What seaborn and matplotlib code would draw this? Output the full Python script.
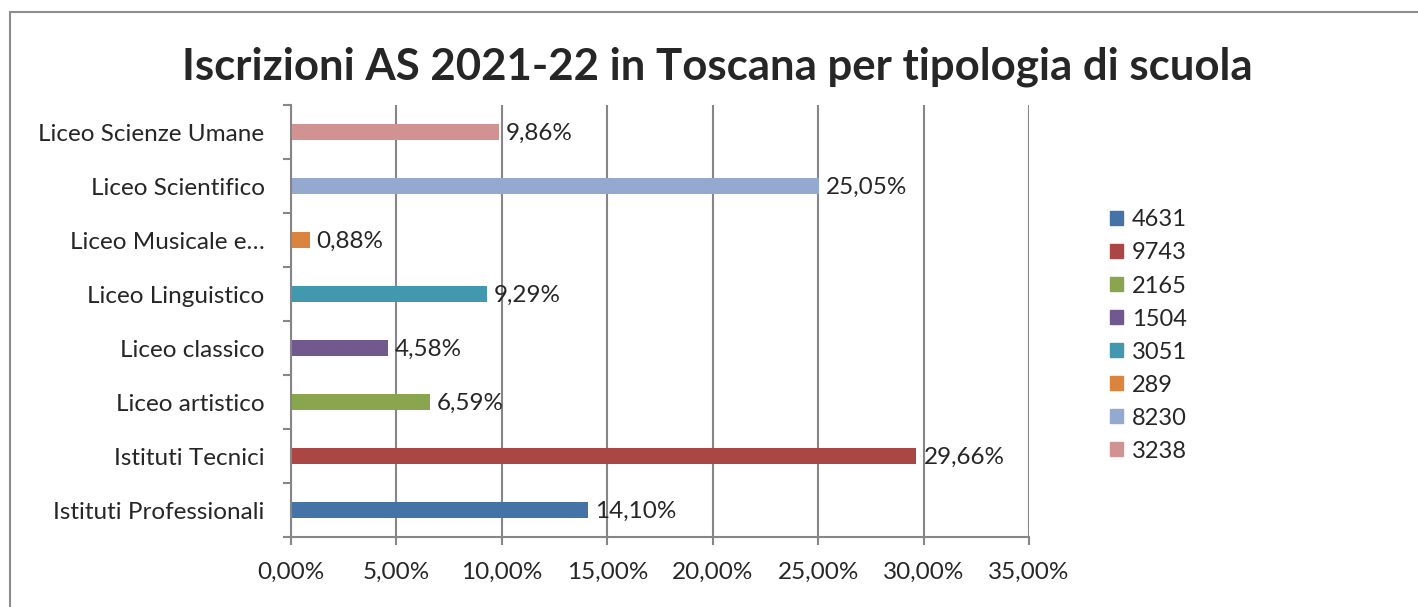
import pandas as pd
import matplotlib.pyplot as plt
import matplotlib.patches as mpatches
import seaborn as sns

# Dati (dal basso verso l'alto come nel grafico originale)
tipologie = ['Istituti Professionali', 'Istituti Tecnici', 'Liceo artistico', 'Liceo classico',
             'Liceo Linguistico', 'Liceo Musicale e…', 'Liceo Scientifico', 'Liceo Scienze Umane']
iscritti = [4631, 9743, 2165, 1504, 3051, 289, 8230, 3238]
percentuali = [14.10, 29.66, 6.59, 4.58, 9.29, 0.88, 25.05, 9.86]
colori = ['#4572A7', '#AA4643', '#89A54E', '#71588F', '#4198AF', '#DB843D', '#93A9CF', '#D19392']
xticks = [0, 5, 10, 15, 20, 25, 30, 35]

sns.set_style('white')
plt.rcParams['font.family'] = ['Lato', 'DejaVu Sans']

df = pd.DataFrame({'tipologia': tipologie, 'perc': percentuali, 'n': iscritti})
ordine = tipologie[::-1]
pal = dict(zip(tipologie, colori))

fig = plt.figure(figsize=(14.18, 6.07), dpi=100)
ax = fig.add_axes([0.2052, 0.1153, 0.5205, 0.7117])

sns.barplot(data=df, x='perc', y='tipologia', hue='tipologia', order=ordine, hue_order=ordine,
            palette=pal, orient='h', width=0.31, legend=False, ax=ax, saturation=1, linewidth=0)

ax.set_xlim(0, 35)
ax.set_ylim(len(tipologie) - 0.5, -0.5)
ax.set_xticks(xticks)
ax.set_xticklabels([f'{v:.2f}%'.replace('.', ',') for v in xticks], fontsize=17.5)
ax.set_yticks([i + 0.5 for i in range(-1, len(tipologie))])
ax.set_yticklabels([])
ax.set_yticks(range(len(ordine)), minor=True)
ax.set_yticklabels(ordine, minor=True, fontsize=17.5)
ax.tick_params(axis='y', which='minor', length=0, pad=19)
ax.tick_params(axis='y', which='major', length=6, width=1.5, color='#868686', direction='out', left=True)
ax.tick_params(axis='x', length=6, width=1.5, color='#868686', direction='out', bottom=True, pad=12)
ax.set_xlabel('')
ax.set_ylabel('')
ax.grid(axis='x', color='#868686', linewidth=1.5)
ax.set_axisbelow(True)
for s in ['top', 'right']:
    ax.spines[s].set_visible(False)
for s in ['left', 'bottom']:
    ax.spines[s].set_color('#868686')
    ax.spines[s].set_linewidth(1.5)

# Etichette dei valori
for i, nome in enumerate(ordine):
    p = df.loc[df['tipologia'] == nome, 'perc'].iloc[0]
    ax.annotate(f'{p:.2f}%'.replace('.', ','), (p, i), xytext=(5, -1), textcoords='offset points',
                va='center', ha='left', fontsize=17.5)

# Legenda con i numeri di iscritti
handles = [mpatches.Patch(color=c, label=str(n)) for c, n in zip(colori, iscritti)]
fig.legend(handles=handles, loc='upper left', bbox_to_anchor=(0.7675, 0.69), frameon=False,
           fontsize=17, handlelength=0.55, handleheight=0.55, handletextpad=0.4, labelspacing=0.51)

fig.text(0.506, 0.89, 'Iscrizioni AS 2021-22 in Toscana per tipologia di scuola',
         ha='center', va='center', fontsize=31.5, fontweight='bold')

fig.patches.append(mpatches.Rectangle((10 / 1418, -0.1), 1.2, 1.1 - 12 / 607, transform=fig.transFigure,
                                      fill=False, edgecolor='#8c8c8c', linewidth=1.5))

fig.savefig('out.png', dpi=100)
